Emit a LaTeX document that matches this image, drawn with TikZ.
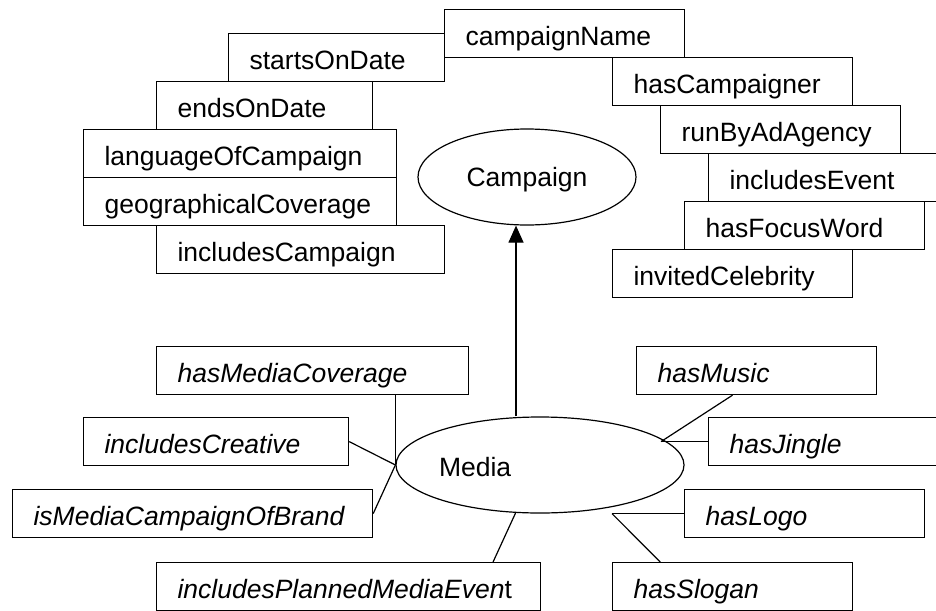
\documentclass[tikz,border=0pt]{standalone}
\usepackage{fontspec}
\setmainfont{Liberation Sans}
\usetikzlibrary{calc,shapes.geometric,arrows.meta}
\tikzset{
  lbl/.style={font=\fontsize{26.5}{30}\selectfont},
  box/.style={lbl, draw, rectangle, anchor=north west, inner xsep=21pt, inner ysep=0pt,
    text height=36pt, text depth=12pt, text width=#1, align=left},
  ibox/.style={box=#1, font=\fontsize{26.5}{30}\selectfont\itshape},
  ell/.style={lbl, draw, ellipse, inner sep=0pt, text depth=0pt},
  conn/.style={line width=1.2pt},
}
\begin{document}
\begin{tikzpicture}[x=1pt, y=-1pt, line width=1.2pt]
\useasboundingbox (0,0) rectangle (936,610);
% Campaign attributes (left)
\node[box=174pt] (sd) at (228,33) {startsOnDate};
\node[box=174pt] (ed) at (156,81) {endsOnDate};
\node[box=271pt] (lc) at (83,129) {languageOfCampaign};
\node[box=271pt] (gc) at (83,177) {geographicalCoverage};
\node[box=246pt] (inc) at (156,225) {includesCampaign};
% Campaign attributes (right)
\node[box=198pt] (cn) at (444,9) {campaignName};
\node[box=198pt] (hc) at (612,57) {hasCampaigner};
\node[box=198pt] (ra) at (660,105) {runByAdAgency};
\node[box=198pt] (ie) at (708,153) {includesEvent};
\node[box=198pt] (fw) at (684,201) {hasFocusWord};
\node[box=198pt] (ce) at (612,249) {invitedCelebrity};
% Ellipses
\node[ell, minimum width=218pt, minimum height=96pt] (ca) at (527,177) {Campaign};
\node[ell, minimum width=288pt, minimum height=96pt,
  label={[lbl, anchor=base west, inner sep=0pt, xshift=43pt, yshift=-11pt]west:Media}] (me) at (540,465) {};
% Media properties (left)
\node[ibox=270pt] (mc) at (156,346) {hasMediaCoverage};
\node[ibox=223pt] (cr) at (83,417) {includesCreative};
\node[ibox=318pt] (mb) at (12,489) {isMediaCampaignOfBrand};
\node[ibox=342pt] (pe) at (156,562) {includesPlannedMediaEven\upshape t};
% Media properties (right)
\node[ibox=198pt] (mu) at (636,346) {hasMusic};
\node[ibox=198pt] (ji) at (708,417) {hasJingle};
\node[ibox=198pt] (lo) at (684,489) {hasLogo};
\node[ibox=198pt] (sl) at (612,562) {hasSlogan};
% junctions
\coordinate (jm) at ($(ji.west)+(-47,0)$);
\coordinate (js) at (lo.west -| sl.north west);
% connectors
\draw[conn, -{Triangle[width=15pt,length=17pt]}] ($(me.north)+(-24,0)$) -- ($(ca.south)+(-11,0)$);
\draw[conn] (mc.south -| me.west) -- (me.west);
\draw[conn] (cr.east) -- (me.west);
\draw[conn] (mb.east) -- (me.west);
\draw[conn] (me.243) -- ($(pe.north west)!0.875!(pe.north east)$);
\draw[conn] ($(mu.south west)!0.4!(mu.south east)$) -- (jm);
\draw[conn] (jm) -- (ji.west);
\draw[conn] (lo.west) -- (js);
\draw[conn] (js) -- ($(sl.north west)!0.2!(sl.north east)$);
\end{tikzpicture}
\end{document}
